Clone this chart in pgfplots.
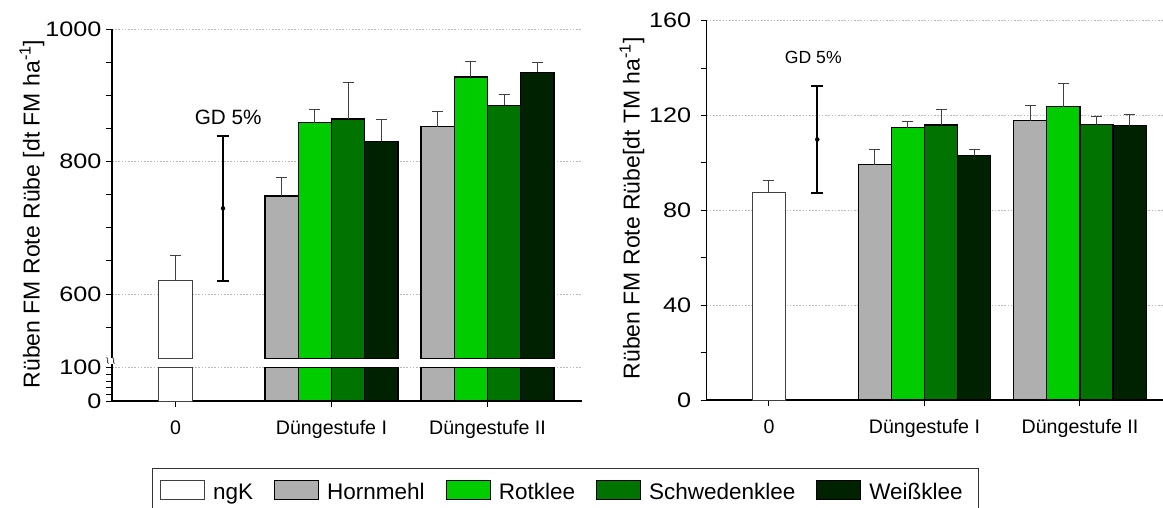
\documentclass[border=0pt]{standalone}
\usepackage{pgfplots}
\usepackage{pgfplotstable}
\pgfplotsset{compat=1.18}
\usepackage{fontspec}
\setmainfont{Liberation Sans}
\usepackage{graphicx}
\definecolor{cHorn}{RGB}{175,175,175}
\definecolor{cRot}{RGB}{0,204,0}
\definecolor{cSchw}{RGB}{0,115,0}
\definecolor{cWeiss}{RGB}{0,34,0}
\definecolor{cGrid}{RGB}{185,185,185}
\definecolor{cErr}{RGB}{64,64,64}
\newcommand\yt[1]{\scalebox{1.2}[1]{#1}}

% ---- Frischmasse (left), x = 0: ngK, 1: Duengestufe I, 2: Duengestufe II
\pgfplotstableread{
x y e
0 620 38
}\fmNgk
\pgfplotstableread{
x y e
1 748 28
2 853 23
}\fmHorn
\pgfplotstableread{
x y e
1 859 20
2 928 23
}\fmRot
\pgfplotstableread{
x y e
1 864.5 55.5
2 885 16
}\fmSchw
\pgfplotstableread{
x y e
1 831 32.5
2 935 15
}\fmWeiss
% ---- Trockenmasse (right)
\pgfplotstableread{
x y e
0 87.5 5
}\tmNgk
\pgfplotstableread{
x y e
1 99.3 6.2
2 117.9 6.3
}\tmHorn
\pgfplotstableread{
x y e
1 114.9 2.7
2 123.8 9.7
}\tmRot
\pgfplotstableread{
x y e
1 116.0 6.5
2 116.2 3.5
}\tmSchw
\pgfplotstableread{
x y e
1 103.1 2.4
2 115.7 4.6
}\tmWeiss

\pgfplotsset{
  common/.style={
    scale only axis, anchor=south west, clip=false,
    tick align=outside, major tick length=6pt, minor tick length=6pt,
    every tick/.style={black, line width=1pt},
    axis line style={line width=1.2pt, black},
    ymajorgrids,
    major grid style={cGrid, line width=0.9pt, dash pattern=on 1.6pt off 1.6pt},
    yticklabel style={font=\fontsize{21pt}{25pt}\selectfont, xshift=-1pt},
    xticklabel style={font=\fontsize{19.6pt}{24pt}\selectfont, yshift=-10pt},
    legend style={font=\fontsize{22.5pt}{26pt}\selectfont},
  },
  bar/.style={ybar, bar width=0.213, bar shift=0, draw=black, line width=1.2pt},
  errs/.style={error bars/.cd, y dir=plus, y explicit,
    error bar style={line width=1pt, draw=cErr},
    error mark options={rotate=90, line width=1pt, draw=cErr, mark size=5.5pt}},
  gd/.style={only marks, mark=none, forget plot, error bars/.cd, y dir=both, y explicit,
    error bar style={line width=1.8pt, draw=black},
    error mark options={rotate=90, line width=1.8pt, draw=black, mark size=6pt}},
}

\begin{document}
\begin{tikzpicture}[x=1pt,y=1pt]
\useasboundingbox (0,0) rectangle (1163,507);

% ================= left chart, upper part =================
\begin{axis}[common,
  at={(112pt,148.8pt)}, width=470pt, height=328.9pt,
  xmin=-0.407, xmax=2.606, ymin=503, ymax=1000,
  y coord trafo/.code={\pgfmathparse{#1-503}},
  y coord inv trafo/.code={\pgfmathparse{#1+503}},
  axis x line=none, axis y line*=left,
  ytick={600,800,1000}, yticklabels={\yt{600},\yt{800},\yt{1000}},
  minor ytick={550,650,700,750,850,900,950},
]
\addplot[bar, fill=white, draw=cErr, line width=1pt, errs] table[x=x,y=y,y error=e] {\fmNgk};
\addplot[bar, fill=cHorn, errs] table[x expr=\thisrow{x}-0.3195,y=y,y error=e] {\fmHorn};
\addplot[bar, fill=cRot, errs] table[x expr=\thisrow{x}-0.1065,y=y,y error=e] {\fmRot};
\addplot[bar, fill=cSchw, errs] table[x expr=\thisrow{x}+0.1065,y=y,y error=e] {\fmSchw};
\addplot[bar, fill=cWeiss, errs] table[x expr=\thisrow{x}+0.3195,y=y,y error=e] {\fmWeiss};
\addplot[gd] coordinates {(0.3045,729.5) +- (0,109.5)};
\node[font=\fontsize{20.7pt}{24pt}\selectfont] at (axis cs:0.338,867) {GD 5\%};
\end{axis}

% ================= left chart, lower part =================
\begin{axis}[common,
  at={(112pt,106pt)}, width=470pt, height=33.3pt,
  xmin=-0.407, xmax=2.606, ymin=0, ymax=100,
  axis x line*=bottom, axis y line*=left,
  xtick={0,1,2}, xticklabels={0,Düngestufe I,Düngestufe II},
  ytick={0,100}, yticklabels={\yt{0},\yt{100}},
  minor ytick={20,40,60,80},
  y filter/.expression={min(y,100)},
]
\addplot[bar, fill=white, draw=cErr, line width=1pt] table[x=x,y=y] {\fmNgk};
\addplot[bar, fill=cHorn] table[x expr=\thisrow{x}-0.3195,y=y] {\fmHorn};
\addplot[bar, fill=cRot] table[x expr=\thisrow{x}-0.1065,y=y] {\fmRot};
\addplot[bar, fill=cSchw] table[x expr=\thisrow{x}+0.1065,y=y] {\fmSchw};
\addplot[bar, fill=cWeiss] table[x expr=\thisrow{x}+0.3195,y=y] {\fmWeiss};
\end{axis}

% axis break marks
\draw[line width=1.2pt, black] (112,139.3) -- (112,143.5);
\draw[line width=0.9pt, cErr] (106.5,149.5) .. controls (109.5,148) and (106,144.5) .. (108.5,143.5);
\draw[line width=0.9pt, cErr] (112.5,149.5) .. controls (115.5,148) and (112,144.5) .. (114.5,143.5);

\node[rotate=90, font=\fontsize{23pt}{27pt}\selectfont] at (32,293) {Rüben FM Rote Rübe [dt FM ha\textsuperscript{-1}]};

% ================= right chart =================
\begin{axis}[common,
  at={(706.7pt,107pt)}, width=456.3pt, height=379.3pt,
  xmin=-0.4006, xmax=2.534, ymin=0, ymax=160,
  axis x line*=bottom, axis y line*=left,
  xtick={0,1,2}, xticklabels={0,Düngestufe I,Düngestufe II},
  ytick={0,40,80,120,160}, yticklabels={\yt{0},\yt{40},\yt{80},\yt{120},\yt{160}},
  minor ytick={20,60,100,140},
  yticklabel style={xshift=-5pt},
  legend columns=5,
  legend style={at={(-1.1981,-0.2109)}, anchor=north west, draw=none, fill=none,
    inner sep=0pt,
    nodes={inner xsep=0pt, inner ysep=0pt, text height=16pt, text depth=5pt},
    /tikz/every odd column/.append style={column sep=8pt},
    /tikz/every even column/.append style={column sep=21pt}},
  legend image code/.code={\draw[#1, line width=1pt] (0pt,-6.2pt) rectangle (44pt,12.8pt);},
]
\addplot[bar, fill=white, draw=cErr, line width=1pt, errs] table[x=x,y=y,y error=e] {\tmNgk};
\addlegendentry{ngK}
\addplot[bar, fill=cHorn, errs] table[x expr=\thisrow{x}-0.3195,y=y,y error=e] {\tmHorn};
\addlegendentry{Hornmehl}
\addplot[bar, fill=cRot, errs] table[x expr=\thisrow{x}-0.1065,y=y,y error=e] {\tmRot};
\addlegendentry{Rotklee}
\addplot[bar, fill=cSchw, errs] table[x expr=\thisrow{x}+0.1065,y=y,y error=e] {\tmSchw};
\addlegendentry{Schwedenklee}
\addplot[bar, fill=cWeiss, errs] table[x expr=\thisrow{x}+0.3195,y=y,y error=e] {\tmWeiss};
\addlegendentry{Weißklee}
\addplot[gd] coordinates {(0.3106,109.9) +- (0,22.7)};
\node[font=\fontsize{17.6pt}{21pt}\selectfont] at (axis cs:0.285,144.6) {GD 5\%};
\end{axis}

\node[rotate=90, font=\fontsize{23pt}{27pt}\selectfont] at (632,298.7) {Rüben FM Rote Rübe[dt TM ha\textsuperscript{-1}]};

% legend frame (continues below the picture's lower edge, as in the original)
\draw[line width=1pt, black!80] (152.7,-6) |- (978.3,38.7) -- (978.3,-6);
\end{tikzpicture}
\end{document}
